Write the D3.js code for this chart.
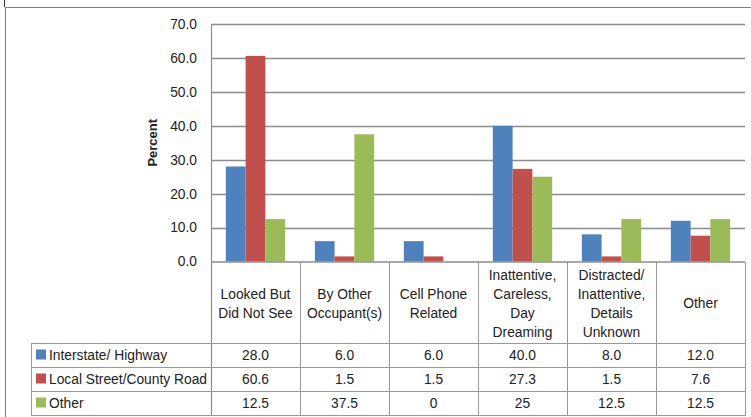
<!DOCTYPE html>
<html><head><meta charset="utf-8">
<script src="https://cdn.jsdelivr.net/npm/d3@7"></script>
<style>body{margin:0;background:#fff}svg{display:block}text{font-family:"Liberation Sans",Arial,sans-serif;fill:#222}</style>
</head><body>
<script>
const categories = [
  ["Looked But","Did Not See"],
  ["By Other","Occupant(s)"],
  ["Cell Phone","Related"],
  ["Inattentive,","Careless,","Day","Dreaming"],
  ["Distracted/","Inattentive,","Details","Unknown"],
  ["Other"]
];
const seriesNames = ["Interstate/ Highway","Local Street/County Road","Other"];
const seriesColors = ["#4F81BD","#C0504D","#9BBB59"];
const interstate = [28.0, 6.0, 6.0, 40.0, 8.0, 12.0];
const localRoad = [60.6, 1.5, 1.5, 27.3, 1.5, 7.6];
const otherRoad = [12.5, 37.5, 0, 25, 12.5, 12.5];
const tableLabels = [
  ["28.0","6.0","6.0","40.0","8.0","12.0"],
  ["60.6","1.5","1.5","27.3","1.5","7.6"],
  ["12.5","37.5","0","25","12.5","12.5"]
];
const yTicks = [0,10,20,30,40,50,60,70];
const values = [interstate, localRoad, otherRoad];

const W = 751, H = 417;
const FS = "13.8px";
const svg = d3.select("body").append("svg").attr("width", W).attr("height", H);

const plotL = 211, plotR = 745, plotT = 24, plotB = 261.5;
const x = d3.scaleBand().domain(d3.range(categories.length)).range([plotL, plotR]).paddingInner(0).paddingOuter(0);
const xs = d3.scaleBand().domain(d3.range(3)).range([0, x.bandwidth()]).paddingOuter(0.75).paddingInner(0);
const y = d3.scaleLinear().domain([0, 70]).range([plotB, plotT]);

// outer chart border
svg.append("line").attr("x1",5).attr("x2",W).attr("y1",7.5).attr("y2",7.5).attr("stroke","#7f7f7f");
svg.append("line").attr("x1",5.5).attr("x2",5.5).attr("y1",7).attr("y2",H).attr("stroke","#7f7f7f");
svg.append("line").attr("x1",4.5).attr("x2",4.5).attr("y1",0).attr("y2",7).attr("stroke","#333");

// gridlines
svg.append("g").selectAll("line").data(yTicks.filter(d=>d>0)).join("line")
  .attr("x1", plotL).attr("x2", plotR)
  .attr("y1", d=>Math.round(y(d))+0.5).attr("y2", d=>Math.round(y(d))+0.5)
  .attr("stroke","#8c8c8c").attr("stroke-width",1.5);

// y axis
const yAxis = d3.axisLeft(y).tickValues(yTicks).tickFormat(d3.format(".1f")).tickSize(0).tickPadding(14);
const ga = svg.append("g").attr("transform",`translate(${plotL},0)`).call(yAxis);
ga.attr("font-size", null).attr("font-family", null);
ga.select(".domain").remove();
ga.selectAll("text").attr("font-size", FS).style("font-size", FS).attr("fill","#222");

svg.append("text").attr("transform",`translate(157,${(plotT+plotB)/2}) rotate(-90)`)
  .attr("text-anchor","middle").style("font-size","13px").style("font-weight","bold").text("Percent");

// bars
const g = svg.append("g");
values.forEach((vals, si) => {
  g.append("g").selectAll("rect").data(vals).join("rect")
    .attr("x", (d,i)=>x(i)+xs(si))
    .attr("width", xs.bandwidth())
    .attr("y", d=>y(d))
    .attr("height", d=>plotB - y(d))
    .attr("fill", seriesColors[si]);
});

// plot left axis line and zero line
svg.append("line").attr("x1",plotL+0.5).attr("x2",plotL+0.5).attr("y1",plotT).attr("y2",415).attr("stroke","#8c8c8c").attr("stroke-width",1.2);
svg.append("line").attr("x1",plotL).attr("x2",plotR).attr("y1",plotB+0.5).attr("y2",plotB+0.5).attr("stroke","#8c8c8c").attr("stroke-width",1.5);

// data table
const tTop = 262, hdrB = 343, rowH = 24, tBot = 415, legL = 31;
const tg = svg.append("g");
d3.range(1, categories.length+1).forEach(i => {
  const xx = i < categories.length ? x(i) : plotR;
  tg.append("line").attr("x1",xx+0.5).attr("x2",xx+0.5).attr("y1",tTop).attr("y2",tBot).attr("stroke","#999");
});
tg.append("line").attr("x1",legL+0.5).attr("x2",legL+0.5).attr("y1",hdrB).attr("y2",tBot).attr("stroke","#999");
[hdrB, hdrB+rowH, hdrB+2*rowH, tBot].forEach(yy => {
  tg.append("line").attr("x1",legL).attr("x2",plotR+1).attr("y1",yy+0.5).attr("y2",yy+0.5).attr("stroke","#999");
});
const lineH = 19;
categories.forEach((lines, i) => {
  const cy = (tTop + hdrB)/2 + 1;
  const start = cy - (lines.length-1)*lineH/2;
  lines.forEach((ln, j) => {
    tg.append("text").attr("x", x(i)+x.bandwidth()/2).attr("y", start + j*lineH)
      .attr("dy","0.35em").attr("text-anchor","middle").style("font-size",FS).text(ln);
  });
});
seriesNames.forEach((name, si) => {
  const cy = hdrB + rowH*si + rowH/2 + 0.5;
  tg.append("rect").attr("x",36).attr("y",cy-6).attr("width",10).attr("height",10).attr("fill",seriesColors[si]);
  tg.append("text").attr("x",49).attr("y",cy).attr("dy","0.35em").style("font-size",FS).text(name);
  tableLabels[si].forEach((lab, i) => {
    tg.append("text").attr("x", x(i)+x.bandwidth()/2).attr("y", cy).attr("dy","0.35em")
      .attr("text-anchor","middle").style("font-size",FS).text(lab);
  });
});
</script>
</body></html>
